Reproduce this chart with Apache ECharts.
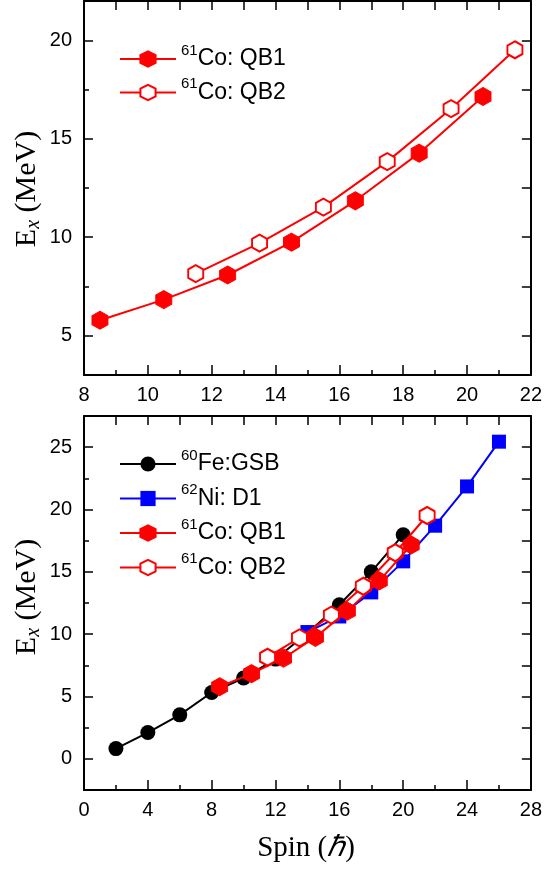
<!DOCTYPE html>
<html>
<head>
<meta charset="utf-8">
<script src="https://cdn.jsdelivr.net/npm/echarts@6/dist/echarts.min.js"></script>
<style>
html,body{margin:0;padding:0;background:#fff;}
#chart{width:545px;height:869px;}
</style>
</head>
<body>
<div id="chart"></div>
<script>
// ---- data ----
const spinQB1 = [8.5, 10.5, 12.5, 14.5, 16.5, 18.5, 20.5];
const exQB1   = [5.78, 6.83, 8.08, 9.75, 11.85, 14.27, 17.15];
const spinQB2 = [11.5, 13.5, 15.5, 17.5, 19.5, 21.5];
const exQB2   = [8.15, 9.70, 11.53, 13.84, 16.53, 19.52];
const spinFe  = [2, 4, 6, 8, 10, 12, 14, 16, 18, 20];
const exFe    = [0.82, 2.11, 3.53, 5.32, 6.48, 8.0, 10.1, 12.36, 15.0, 17.98];
const spinNi  = [14, 16, 18, 20, 22, 24, 26];
const exNi    = [10.17, 11.42, 13.35, 15.84, 18.7, 21.85, 25.44];

// tick values
const topYMajor = [5, 10, 15, 20];
const topYMinor = [7.5, 12.5, 17.5];
const botYMajor = [0, 5, 10, 15, 20, 25];
const botYMinor = [2.5, 7.5, 12.5, 17.5, 22.5];

const FONT = 'Liberation Sans';
const SERIF = 'Liberation Serif';
const HEX = 'path://M0,-1L0.866,-0.5L0.866,0.5L0,1L-0.866,0.5L-0.866,-0.5Z';

const zip = (a, b) => a.map((v, i) => [v, b[i]]);

function xAxesFor(grid, min, max, interval) {
  return [
    {gridIndex: grid, type: 'value', position: 'bottom', min, max, interval,
     axisLine: {show: true, onZero: false, lineStyle: {color: '#000', width: 2}},
     axisTick: {show: true, inside: true, length: 10, lineStyle: {color: '#000', width: 1.5}},
     minorTick: {show: true, splitNumber: 2, length: 5, lineStyle: {color: '#000', width: 1.5}},
     axisLabel: {show: true, fontSize: 20, color: '#000', fontFamily: FONT, margin: 10, showMinLabel: true, showMaxLabel: true},
     splitLine: {show: false}, minorSplitLine: {show: false}},
    {gridIndex: grid, type: 'value', position: 'top', min, max, interval,
     axisLine: {show: true, onZero: false, lineStyle: {color: '#000', width: 2}},
     axisTick: {show: true, inside: true, length: 9, lineStyle: {color: '#000', width: 1.5}},
     minorTick: {show: true, splitNumber: 2, length: 9, lineStyle: {color: '#000', width: 1.5}},
     axisLabel: {show: false},
     splitLine: {show: false}, minorSplitLine: {show: false}}
  ];
}

function yAxesFor(grid, min, max, major, minor) {
  return [
    {gridIndex: grid, type: 'value', position: 'left', min, max,
     axisLine: {show: true, onZero: false, lineStyle: {color: '#000', width: 2}},
     axisTick: {show: true, inside: true, length: 9, customValues: major, lineStyle: {color: '#000', width: 1.5}},
     axisLabel: {show: true, customValues: major, fontSize: 20, color: '#000', fontFamily: FONT, margin: 12},
     splitLine: {show: false}},
    {gridIndex: grid, type: 'value', position: 'left', min, max,
     axisLine: {show: false},
     axisTick: {show: true, inside: true, length: 5, customValues: minor, lineStyle: {color: '#000', width: 1.5}},
     axisLabel: {show: false},
     splitLine: {show: false}},
    {gridIndex: grid, type: 'value', position: 'right', min, max,
     axisLine: {show: true, onZero: false, lineStyle: {color: '#000', width: 2}},
     axisTick: {show: true, inside: true, length: 9, customValues: major.concat(minor), lineStyle: {color: '#000', width: 1.5}},
     axisLabel: {show: false},
     splitLine: {show: false}}
  ];
}

function seriesQB1(xi, yi) {
  return {name: 'QB1', type: 'line', xAxisIndex: xi, yAxisIndex: yi, data: zip(spinQB1, exQB1),
    symbol: HEX, symbolSize: [16, 18], lineStyle: {color: '#ff0000', width: 2},
    itemStyle: {color: '#ff0000', borderColor: '#ff0000', borderWidth: 1}, z: 5};
}
function seriesQB2(xi, yi) {
  return {name: 'QB2', type: 'line', xAxisIndex: xi, yAxisIndex: yi, data: zip(spinQB2, exQB2),
    symbol: HEX, symbolSize: [15, 17], showAllSymbol: true, lineStyle: {color: '#ff0000', width: 2},
    itemStyle: {color: '#ffffff', borderColor: '#ff0000', borderWidth: 2}, z: 4};
}

const legendRich = {
  sup: {fontSize: 15, lineHeight: 14, verticalAlign: 'top', fontFamily: FONT, color: '#000'},
  b: {fontSize: 23, lineHeight: 32, fontFamily: FONT, color: '#000'}
};
const legendNames = {
  GSB: '{sup|60}{b|Fe:GSB}',
  D1: '{sup|62}{b|Ni: D1}',
  QB1: '{sup|61}{b|Co: QB1}',
  QB2: '{sup|61}{b|Co: QB2}'
};

const yTitle = '{e|E}{x|x}{e| (MeV)}';
const yTitleRich = {
  e: {fontSize: 30, lineHeight: 34, fontFamily: SERIF, color: '#000'},
  x: {fontSize: 20, lineHeight: 20, fontStyle: 'italic', verticalAlign: 'bottom', fontFamily: SERIF, color: '#000'}
};

const option = {
  animation: false,
  backgroundColor: '#fff',
  grid: [
    {left: 84, top: 1, width: 451, height: 374},
    {left: 84, top: 416, width: 451, height: 374}
  ],
  xAxis: [].concat(xAxesFor(0, 8, 22, 2), xAxesFor(1, 0, 28, 4)),
  yAxis: [].concat(yAxesFor(0, 3, 22, topYMajor, topYMinor), yAxesFor(1, -2.5, 27.5, botYMajor, botYMinor)),
  legend: [
    {left: 114, top: 38, orient: 'vertical', itemWidth: 56, itemHeight: 19, itemGap: 6,
     data: ['QB1', 'QB2'].map(n => ({name: n})), selectedMode: false,
     formatter: n => legendNames[n], textStyle: {rich: legendRich}},
    {left: 114, top: 443, orient: 'vertical', itemWidth: 56, itemHeight: 19, itemGap: 7,
     data: ['GSB', 'D1', 'QB1', 'QB2'].map(n => ({name: n})), selectedMode: false,
     formatter: n => legendNames[n], textStyle: {rich: legendRich}}
  ],
  series: [
    seriesQB2(0, 0),
    seriesQB1(0, 0),
    {name: 'GSB', type: 'line', xAxisIndex: 2, yAxisIndex: 3, data: zip(spinFe, exFe),
     symbol: 'circle', symbolSize: 15, lineStyle: {color: '#000', width: 2},
     itemStyle: {color: '#000'}, z: 2},
    {name: 'D1', type: 'line', xAxisIndex: 2, yAxisIndex: 3, data: zip(spinNi, exNi),
     symbol: 'rect', symbolSize: 14, lineStyle: {color: '#0000ff', width: 2},
     itemStyle: {color: '#0000ff'}, z: 3},
    seriesQB2(2, 3),
    seriesQB1(2, 3)
  ],
  graphic: [
    {type: 'text', x: 27, y: 189, rotation: Math.PI / 2,
     style: {text: yTitle, rich: yTitleRich, align: 'center', verticalAlign: 'middle'}},
    {type: 'text', x: 27, y: 597, rotation: Math.PI / 2,
     style: {text: yTitle, rich: yTitleRich, align: 'center', verticalAlign: 'middle'}},
    {type: 'text', x: 306, y: 848,
     style: {text: '{s|Spin}{p| (}{h|ℏ}{p|)}', align: 'center', verticalAlign: 'middle',
       rich: {
         s: {fontSize: 29, fontFamily: SERIF, color: '#000'},
         p: {fontSize: 29, fontFamily: SERIF, color: '#000'},
         h: {fontSize: 29, fontFamily: SERIF, fontStyle: 'italic', color: '#000'}
       }}}
  ]
};

const chart = echarts.init(document.getElementById('chart'), null, {renderer: 'canvas'});
chart.setOption(option);
</script>
</body>
</html>
